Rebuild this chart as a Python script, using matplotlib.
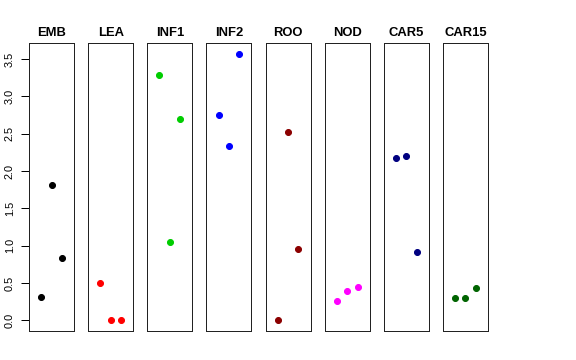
import matplotlib
matplotlib.use('Agg')
from matplotlib import pyplot as plt

plt.rcParams['font.family'] = ['Liberation Sans', 'DejaVu Sans']

# tissues and their three replicate values
tissues = ['EMB', 'LEA', 'INF1', 'INF2', 'ROO', 'NOD', 'CAR5', 'CAR15']
colors = ['black', '#FF0000', '#00CD00', '#0000FF', '#8B0000', '#FF00FF', '#000080', '#006400']
reps = [1, 2, 3]
emb = [0.31, 1.81, 0.84]
lea = [0.50, 0.0, 0.0]
inf1 = [3.29, 1.05, 2.70]
inf2 = [2.75, 2.33, 3.57]
roo = [0.0, 2.52, 0.95]
nod = [0.26, 0.39, 0.45]
car5 = [2.17, 2.20, 0.92]
car15 = [0.30, 0.30, 0.44]
values = [emb, lea, inf1, inf2, roo, nod, car5, car15]

W, H = 576, 360
fig = plt.figure(figsize=(W / 72, H / 72), dpi=72)

ymax = max(max(v) for v in values)
pad = ymax * 0.04

left0 = 29
pitch = 59.14
width = 45
top = 43.3
bottom = 331

for i, name in enumerate(tissues):
    ax = fig.add_axes([(left0 + i * pitch) / W, (H - bottom) / H,
                       width / W, (bottom - top) / H])
    ax.plot(reps, values[i], 'o', color=colors[i], markersize=6)
    ax.set_xlim(-0.16, 4.16)
    ax.set_ylim(-pad, ymax + pad)
    ax.set_xticks([])
    ax.set_title(name, fontsize=13, fontweight='bold', pad=7)
    for s in ax.spines.values():
        s.set_linewidth(1)
        s.set_color('#222222')
    if i == 0:
        ax.set_yticks([0.0, 0.5, 1.0, 1.5, 2.0, 2.5, 3.0, 3.5])
        ax.set_yticklabels(['0.0', '0.5', '1.0', '1.5', '2.0', '2.5', '3.0', '3.5'],
                           rotation=90, va='center', fontsize=11)
        ax.tick_params(axis='y', length=8, width=1, pad=6)
    else:
        ax.set_yticks([])

fig.savefig('out.png', dpi=72)
